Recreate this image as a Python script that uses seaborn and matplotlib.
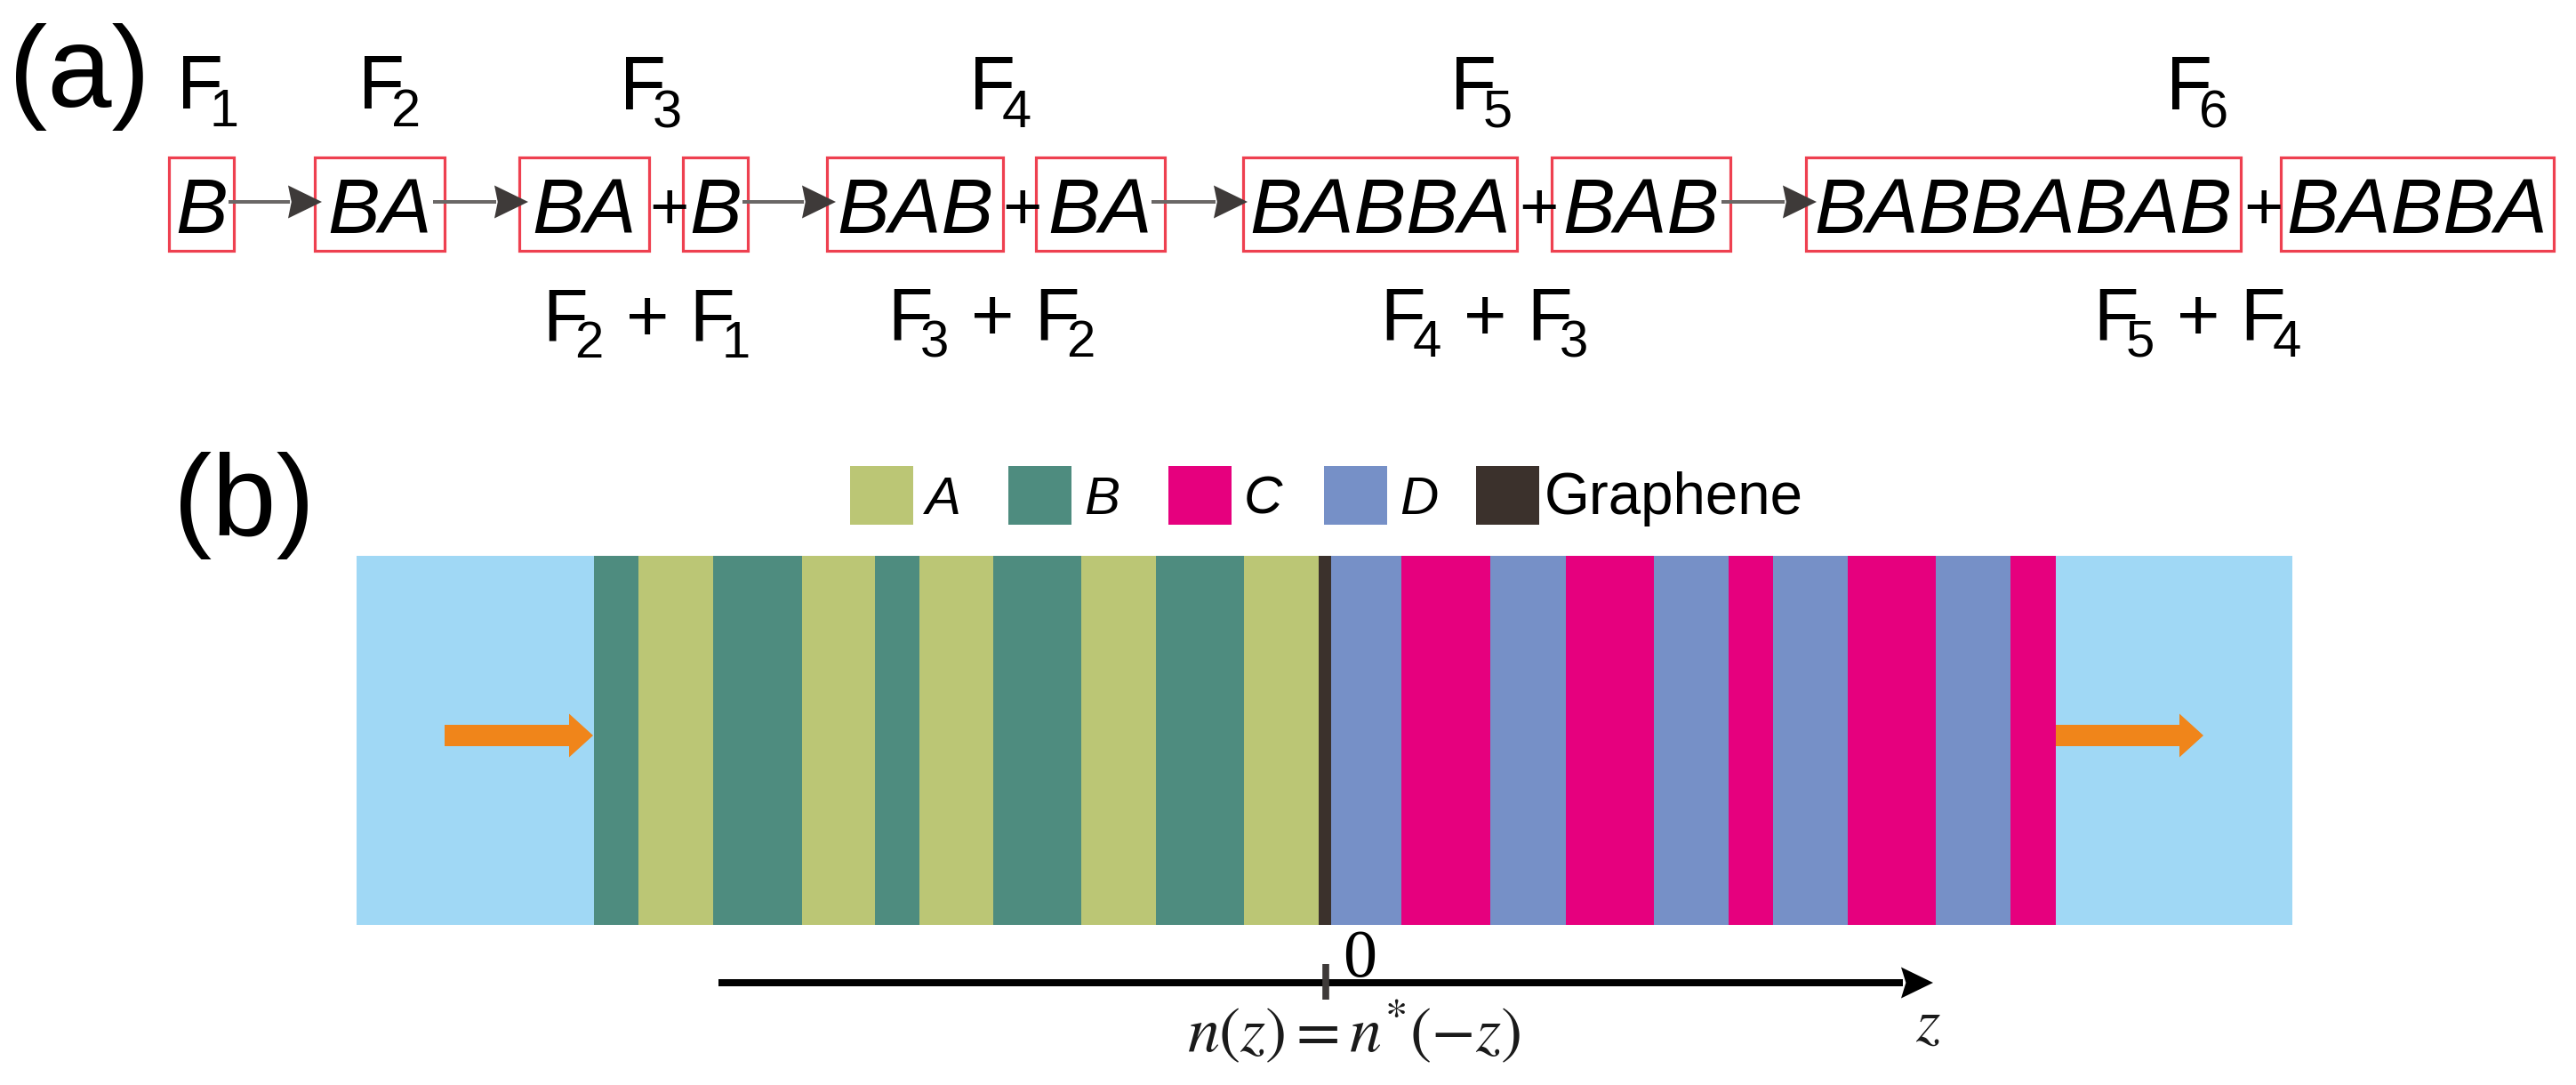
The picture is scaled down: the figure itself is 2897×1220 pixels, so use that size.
import numpy as np
import pandas as pd
import matplotlib
matplotlib.use('Agg')
import matplotlib.pyplot as plt
from matplotlib import _mathtext
from matplotlib.patches import Rectangle
import seaborn as sns

# panel (a): the Fibonacci sequence
f_labels = [r'F$\hspace{-0.22}_1$', r'F$\hspace{-0.22}_2$', r'F$\hspace{-0.22}_3$',
            r'F$\hspace{-0.22}_4$', r'F$\hspace{-0.22}_5$', r'F$\hspace{-0.22}_6$']
f_label_x = [198, 402, 696, 1089, 1630, 2435]
box_words = ['B', 'BA', 'BA', 'B', 'BAB', 'BA', 'BABBA', 'BAB', 'BABBABAB', 'BABBA']
box_left = [190, 354, 584, 768, 930, 1165, 1398, 1745, 2031, 2565]
box_right = [263, 500, 730, 841, 1128, 1310, 1706, 1946, 2520, 2872]
plus_x = [752, 1149, 1730, 2545]
sum_labels = [r'F$\hspace{-0.22}_2$ + F$\hspace{-0.22}_1$', r'F$\hspace{-0.22}_3$ + F$\hspace{-0.22}_2$',
              r'F$\hspace{-0.22}_4$ + F$\hspace{-0.22}_3$', r'F$\hspace{-0.22}_5$ + F$\hspace{-0.22}_4$']
sum_x = [610, 998, 1552, 2354]
step_from = [257, 487, 835, 1295, 1936]
step_to = [362, 594, 940, 1403, 2043]

# panel (b): the layer stack
layer_names = ['air', 'B', 'A', 'B', 'A', 'B', 'A', 'B', 'A', 'B', 'A', 'Graphene',
               'D', 'C', 'D', 'C', 'D', 'C', 'D', 'C', 'D', 'C', 'air']
layer_widths = [267.5, 50, 84, 100, 82, 50, 83, 99, 84, 99, 84, 14,
                79, 100, 85, 99, 84, 50, 84, 99, 84, 51, 266]
legend_names = ['A', 'B', 'C', 'D', 'Graphene']
legend_x = [956, 1134, 1314, 1489, 1660]
colors = {'air': '#A0D8F5', 'A': '#BBC675', 'B': '#4E8C7F', 'C': '#E6007E',
          'D': '#7690C7', 'Graphene': '#3B312C'}

sns.set_theme(style='white')
plt.rcParams['font.family'] = ['Liberation Sans', 'DejaVu Sans']
plt.rcParams['mathtext.fontset'] = 'custom'
plt.rcParams['mathtext.rm'] = 'Liberation Sans'
plt.rcParams['mathtext.it'] = 'Liberation Sans:italic'
# the subscripts hang lower than mathtext puts them by default
_mathtext.FontConstantsBase.sub1 = 0.45


def px(n):
    # font size in points for an em of n pixels
    return n * 72 / 100


W, H = 2897, 1220
STACK_L, STACK_R, STACK_T, STACK_B = 400.5, 2578, 625, 1040
fig = plt.figure(figsize=(W / 100, H / 100), dpi=100, facecolor='white')

# layers go through a histogram, one bin per layer
edges = STACK_L + np.concatenate([[0], np.cumsum(layer_widths)])
edges[-1] = STACK_R
stack = pd.DataFrame({'z': (edges[:-1] + edges[1:]) / 2, 'material': layer_names})
ax_stack = fig.add_axes([STACK_L / W, 1 - STACK_B / H,
                         (STACK_R - STACK_L) / W, (STACK_B - STACK_T) / H])
sns.histplot(data=stack, x='z', hue='material', bins=edges, palette=colors,
             alpha=1, linewidth=0, legend=False, ax=ax_stack)
ax_stack.set_xlim(STACK_L, STACK_R)
ax_stack.set_ylim(0, 1)
ax_stack.axis('off')

# everything else sits on a full figure axes in pixels
ax = fig.add_axes([0, 0, 1, 1])
ax.set_xlim(0, W)
ax.set_ylim(H, 0)
ax.axis('off')


def arrow(x0, x1, y, shaft, head_w, head_l, color, head_color=None, notch=1.0):
    ax.add_patch(Rectangle((x0, y - shaft / 2), x1 - head_l - x0 + 2, shaft,
                           color=color, linewidth=0))
    ax.fill([x1 - head_l, x1, x1 - head_l, x1 - head_l * notch],
            [y - head_w / 2, y, y + head_w / 2, y],
            color=head_color or color, linewidth=0)


ax.text(10, 120, '(a)', fontsize=px(130), ha='left', va='baseline', color='black')
ax.text(195, 602, '(b)', fontsize=px(130), ha='left', va='baseline', color='black')

for label, x in zip(f_labels, f_label_x):
    ax.text(x, 123, label, fontsize=px(85), ha='left', va='baseline', color='black')
for label, x in zip(sum_labels, sum_x):
    ax.text(x, 383, label, fontsize=px(83), ha='left', va='baseline', color='black')

for word, left, right in zip(box_words, box_left, box_right):
    ax.add_patch(Rectangle((left, 177), right - left, 105, fill=False,
                           edgecolor='#EE4050', linewidth=2.3))
    ax.text((left + right) / 2, 262.5, word, fontsize=px(88), style='italic',
            ha='center', va='baseline', color='black')
for x in plus_x:
    ax.text(x, 258, '+', fontsize=px(76), ha='center', va='baseline', color='black')
for x0, x1 in zip(step_from, step_to):
    arrow(x0, x1, 227, 4.5, 37, 38, '#6A6766', '#3E3A39', notch=0.9)

# legend
for name, x in zip(legend_names, legend_x):
    ax.add_patch(Rectangle((x, 523.5), 71, 66, color=colors[name], linewidth=0))
    if name == 'Graphene':
        ax.text(x + 77, 578, name, fontsize=px(65.5), ha='left', va='baseline', color='black')
    else:
        ax.text(x + 85, 578, name, fontsize=px(60), style='italic',
                ha='left', va='baseline', color='black')

# light in and out
arrow(500, 667, 827, 24, 49, 27, '#F0851A')
arrow(2312, 2478, 827, 24, 49, 27, '#F0851A')

# z axis
arrow(808, 2174, 1105, 8, 35, 36, '#000000', notch=0.85)
ax.plot([1491, 1491], [1084, 1124], color='#3E3A39', linewidth=5.5, solid_capstyle='butt')
ax.text(1510, 1098, '0', fontsize=px(76), family='Liberation Serif',
        ha='left', va='baseline', color='black')
ax.text(1522, 1183, r'$n\left(z\right)=n^{*}\left(-z\right)$', fontsize=px(72),
        math_fontfamily='stix', ha='center', va='baseline', color='#1A1A1A')
ax.text(2168, 1171, r'$z$', fontsize=px(70), math_fontfamily='stix',
        ha='center', va='baseline', color='#1A1A1A')

fig.savefig('out.png', dpi=100, facecolor='white')
